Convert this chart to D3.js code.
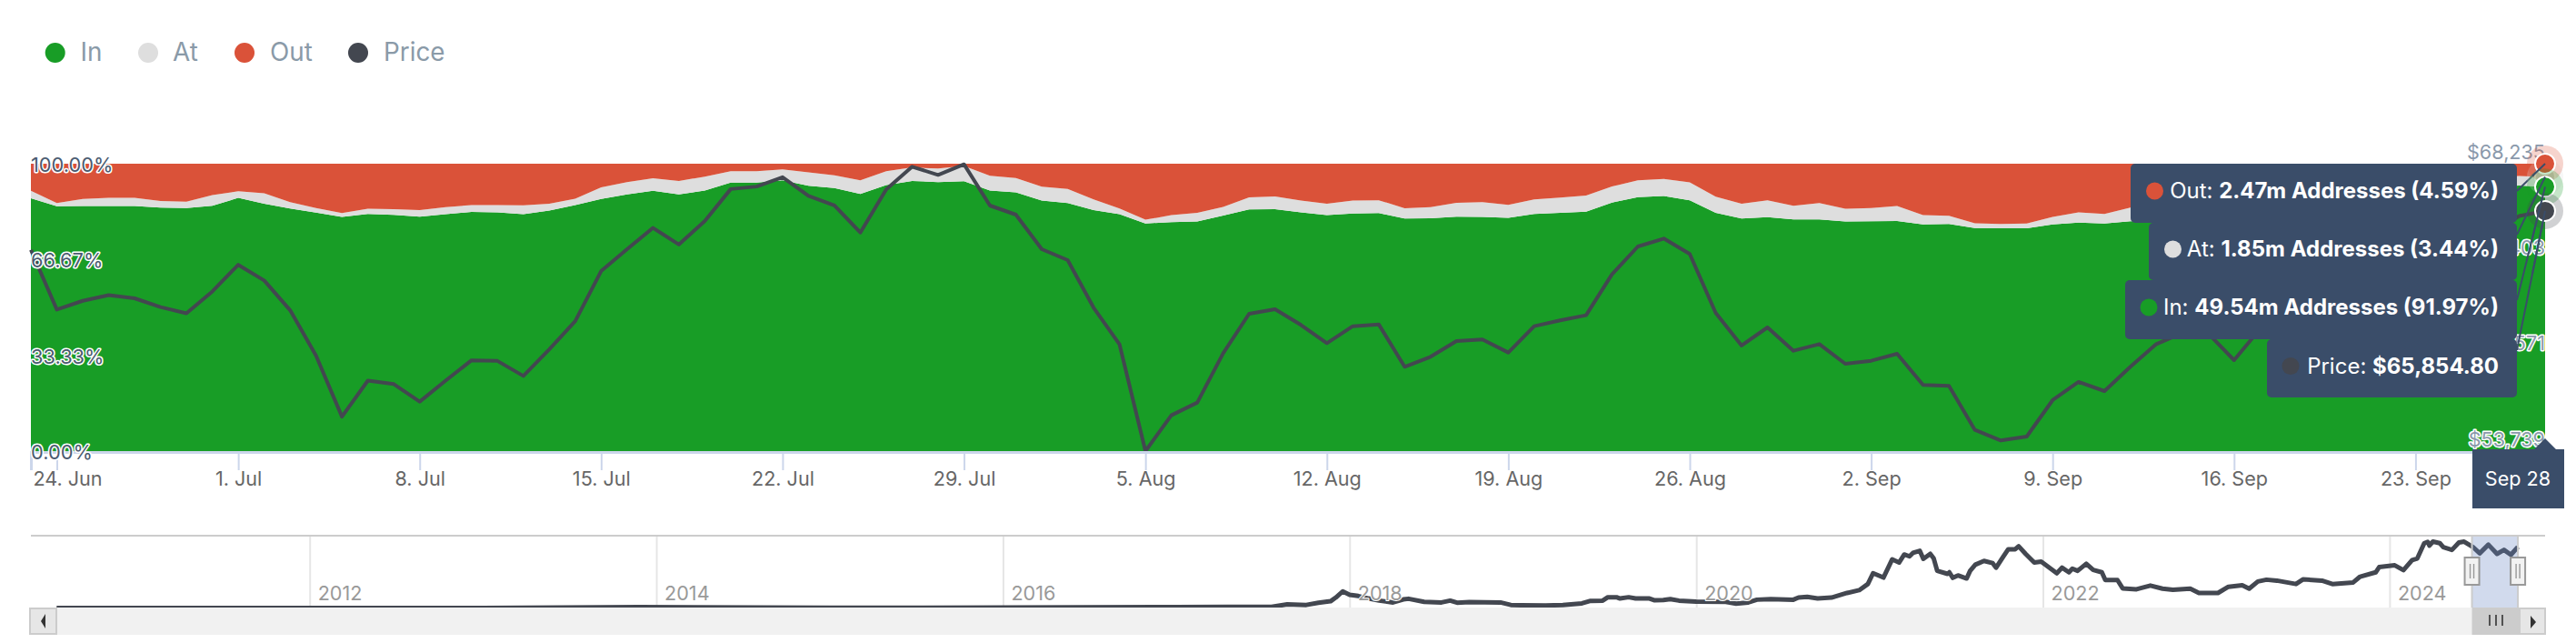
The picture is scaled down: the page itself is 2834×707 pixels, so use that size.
<!DOCTYPE html>
<html>
<head>
<meta charset="utf-8">
<style>
  html, body { margin: 0; padding: 0; background: #fff; }
  svg { display: block; font-family: Inter, sans-serif; }
  .outlined { paint-order: stroke; stroke: #fff; stroke-linejoin: round; }
</style>
<script src="https://cdn.jsdelivr.net/npm/d3@7"></script>
</head>
<body>
<svg id="chart" width="2834" height="707"></svg>
<script>
// first point of the daily series, the last one is Sep 28
let startDate = Date.UTC(2024, 5, 23);

let inPct = [
  88.0, 85.2, 85.3, 85.3, 85.3, 84.7, 84.6, 85.4, 88.1, 86.1, 84.4, 83.0, 81.5, 82.5,
  82.2, 81.6, 82.4, 83.2, 83.1, 82.4, 83.7, 85.6, 87.7, 89.3, 90.6, 89.3, 90.7, 93.4,
  93.4, 94.2, 92.3, 91.5, 89.5, 92.6, 94.0, 93.6, 93.9, 90.7, 90.0, 87.2, 86.3, 83.9,
  82.4, 79.2, 79.7, 79.9, 82.0, 84.1, 84.2, 83.1, 82.1, 82.7, 82.8, 80.9, 81.0, 81.6,
  81.5, 81.2, 82.5, 82.9, 83.3, 86.5, 88.4, 88.8, 87.3, 82.9, 80.9, 81.4, 80.6, 80.6,
  79.9, 80.0, 80.1, 78.9, 79.0, 77.6, 77.5, 77.5, 78.9, 79.5, 79.2, 80.0, 80.2, 81.0,
  82.0, 83.0, 84.0, 85.0, 86.0, 87.0, 87.5, 88.0, 88.5, 89.5, 90.0, 92.0, 92.4, 91.97
];
let atPct = [
  2.6, 1.1, 2.4, 2.8, 2.8, 2.3, 2.2, 3.7, 2.3, 3.6, 2.2, 1.6, 1.3, 1.8,
  2.0, 2.3, 2.5, 2.4, 2.5, 3.1, 2.4, 2.2, 4.1, 4.3, 4.3, 4.7, 4.8, 4.0,
  4.0, 3.8, 4.7, 4.5, 4.7, 4.8, 4.7, 4.7, 5.3, 5.1, 5.0, 4.8, 4.9, 3.7,
  2.0, 1.3, 2.4, 3.0, 3.0, 4.2, 4.4, 4.1, 4.0, 4.5, 4.5, 3.6, 3.9, 4.8,
  5.1, 4.5, 5.1, 5.3, 5.6, 5.6, 5.8, 5.9, 6.2, 5.6, 5.2, 5.9, 4.8, 5.7,
  4.4, 4.6, 5.2, 3.2, 2.9, 1.7, 1.5, 1.7, 2.6, 3.6, 3.3, 4.7, 5.2, 5.0,
  5.0, 5.0, 4.7, 4.5, 4.3, 4.0, 4.0, 4.0, 4.0, 3.5, 3.5, 3.3, 3.3, 3.44
];
let priceUsd = [
  63885, 60877, 61319, 61603, 61445, 61003, 60687, 61793, 63135, 62345, 60845, 58556, 55477, 57293,
  57119, 56235, 57293, 58319, 58287, 57529, 58872, 60293, 62819, 63924, 64998, 64161, 65345, 66956,
  67082, 67556, 66609, 66135, 64761, 66935, 68082, 67669, 68204, 66125, 65666, 63923, 63373, 60972,
  59122, 53739, 55544, 56186, 58679, 60666, 60896, 60101, 59183, 60040, 60131, 57991, 58495, 59290,
  59367, 58709, 60040, 60330, 60590, 62654, 64061, 64458, 63679, 60712, 59061, 59978, 58801, 59137,
  58144, 58296, 58648, 57073, 57027, 54810, 54275, 54474, 56309, 57226, 56767, 57991, 59137, 59700,
  59675, 58327, 59900, 61000, 62500, 63000, 63400, 63300, 63500, 63200, 64300, 64800, 65600, 65854.8
];

let pctTicks = [0, 33.33, 66.67, 100];
let priceTicks = [53739, 58571, 63403, 68235];
let weekTicks = [
  [5, 24], [6, 1], [6, 8], [6, 15], [6, 22], [6, 29], [7, 5], [7, 12], [7, 19], [7, 26],
  [8, 2], [8, 9], [8, 16], [8, 23]
].map(([m, d]) => Date.UTC(2024, m, d));

let legendItems = [
  { name: 'In', color: '#189d26', x: 60.7, textX: 88.5 },
  { name: 'At', color: '#dedede', x: 163, textX: 190 },
  { name: 'Out', color: '#da5239', x: 269, textX: 297 },
  { name: 'Price', color: '#434750', x: 394, textX: 422 }
];

// whole price history for the navigator, as decimal year and usd
let navYears = [
  2010.54, 2013.0, 2013.9, 2015.0, 2016.0, 2017.0, 2017.3, 2017.55, 2017.64, 2017.75, 2017.82, 2017.89, 2017.92, 2017.96,
  2018.0, 2018.05, 2018.11, 2018.17, 2018.25, 2018.31, 2018.34, 2018.43, 2018.53, 2018.58, 2018.62, 2018.69, 2018.87, 2018.93,
  2018.99, 2019.13, 2019.23, 2019.34, 2019.39, 2019.46, 2019.49, 2019.54, 2019.56, 2019.61, 2019.65, 2019.73, 2019.76, 2019.81,
  2019.85, 2019.9, 2020.0, 2020.17, 2020.23, 2020.3, 2020.35, 2020.43, 2020.56, 2020.59, 2020.64, 2020.7, 2020.78, 2020.87,
  2020.94, 2020.99, 2021.02, 2021.08, 2021.13, 2021.17, 2021.2, 2021.23, 2021.25, 2021.29, 2021.31, 2021.35, 2021.37, 2021.39,
  2021.45, 2021.46, 2021.48, 2021.51, 2021.56, 2021.58, 2021.61, 2021.66, 2021.71, 2021.73, 2021.77, 2021.8, 2021.84, 2021.86,
  2021.9, 2021.95, 2021.99, 2022.08, 2022.11, 2022.15, 2022.17, 2022.2, 2022.25, 2022.29, 2022.34, 2022.36, 2022.43, 2022.46,
  2022.54, 2022.62, 2022.69, 2022.75, 2022.85, 2022.9, 2023.01, 2023.07, 2023.15, 2023.19, 2023.24, 2023.29, 2023.35, 2023.46,
  2023.5, 2023.61, 2023.67, 2023.79, 2023.83, 2023.92, 2023.94, 2024.03, 2024.08, 2024.13, 2024.16, 2024.2, 2024.22, 2024.23,
  2024.25, 2024.29, 2024.31, 2024.36, 2024.4, 2024.43, 2024.48, 2024.52, 2024.57, 2024.62, 2024.66, 2024.7, 2024.74
];
let navPrices = [
  0, 100, 1000, 300, 400, 1000, 1200, 1300, 4000, 3300, 5700, 7300, 11300, 18000,
  14300, 13000, 10300, 8000, 6000, 9300, 10000, 6700, 6000, 8000, 5700, 6300, 6000, 3300,
  3000, 2700, 3300, 5000, 7700, 8000, 11700, 11700, 10300, 11700, 10300, 10300, 8300, 8700,
  9700, 8000, 7000, 6700, 4700, 6000, 9000, 9700, 9000, 11300, 12000, 10300, 11300, 16300,
  19300, 26000, 37700, 33000, 52700, 49300, 58000, 56000, 59700, 62000, 53300, 58700, 53700, 40300,
  37000, 38700, 32700, 35300, 32000, 40300, 47000, 51000, 48700, 43700, 55300, 63700, 63700, 67000,
  58700, 49300, 50300, 37700, 43700, 38700, 42700, 40300, 48000, 41300, 38700, 30300, 30300, 21300,
  20300, 24300, 21000, 19700, 21000, 16300, 16300, 23000, 24700, 21000, 28700, 30700, 29700, 26000,
  31000, 29700, 26000, 27700, 34000, 38700, 44300, 46300, 41000, 52000, 53700, 70300, 71700, 67700,
  72000, 70300, 66000, 63000, 71000, 72000, 66300, 59300, 68700, 58700, 63000, 57700, 66300
];
let navYearTicks = [2012, 2014, 2016, 2018, 2020, 2022, 2024];

let tooltipRows = [
  { label: 'Out: ', value: '2.47m Addresses (4.59%)', color: '#da5239', boxLeft: 2344, top: 180, bottom: 245, dotX: 2370.5, fromY: 210, pct: 100 },
  { label: 'At: ', value: '1.85m Addresses (3.44%)', color: '#dedede', boxLeft: 2364, top: 245, bottom: 308, dotX: 2390.5, fromY: 258, pct: 95.41 },
  { label: 'In: ', value: '49.54m Addresses (91.97%)', color: '#189d26', boxLeft: 2338, top: 308, bottom: 373, dotX: 2364, fromY: 330, pct: 91.97 },
  { label: 'Price: ', value: '$65,854.80', color: '#434750', boxLeft: 2494, top: 373, bottom: 437, dotX: 2520, fromY: 385, pct: null }
];

let svg = d3.select('#chart');
let tipColor = '#3a4d69';

let plotLeft = 34, plotRight = 2800, plotTop = 180, plotBottom = 496;
let x = d3.scaleUtc().domain([startDate, Date.UTC(2024, 8, 28)]).range([plotLeft, plotRight]);
let yPct = d3.scaleLinear().domain([0, 100]).range([plotBottom, plotTop]);
let yPrice = d3.scaleLinear().domain([53739, 68235]).range([plotBottom, plotTop]);
let dayMs = 86400000;
let dateAt = (i) => startDate + i * dayMs;

// stacked areas, out is what is left above in and at
let rows = inPct.map((v, i) => ({ date: dateAt(i), In: v, At: atPct[i], Out: 100 - v - atPct[i] }));
let stacked = d3.stack().keys(['In', 'At', 'Out'])(rows);
let areaColors = { In: '#189d26', At: '#dedede', Out: '#da5239' };
let areaGen = d3.area().x((d) => x(d.data.date)).y0((d) => yPct(d[0])).y1((d) => yPct(d[1]));

stacked.forEach((layer) => {
  svg.append('path').attr('d', areaGen(layer)).attr('fill', areaColors[layer.key]);
});

let priceLine = d3.line().x((d, i) => x(dateAt(i))).y((d) => yPrice(d));
svg.append('path')
  .attr('d', priceLine(priceUsd))
  .attr('fill', 'none')
  .attr('stroke', '#434750')
  .attr('stroke-width', 4)
  .attr('stroke-linejoin', 'round');

// x axis
let xAxis = svg.append('g')
  .attr('transform', `translate(0,${plotBottom + 1})`)
  .call(d3.axisBottom(x).tickValues(weekTicks).tickSize(20).tickPadding(2)
    .tickFormat(d3.utcFormat('%-d. %b')));
xAxis.select('.domain').attr('stroke', '#ccd6eb').attr('stroke-width', 3);
xAxis.selectAll('.tick line').attr('stroke', '#ccd6eb').attr('stroke-width', 2);
xAxis.selectAll('.tick text')
  .attr('fill', '#666')
  .attr('font-family', 'Inter, sans-serif')
  .attr('font-size', 21.6);
// first label is pushed right so it stays inside the chart
xAxis.select('.tick text').attr('dx', 11.5);

// left percent axis sits inside the plot
let pctAxis = svg.append('g')
  .attr('transform', `translate(${plotLeft},0)`)
  .call(d3.axisRight(yPct).tickValues(pctTicks).tickSize(0).tickPadding(0)
    .tickFormat((d) => d.toFixed(2) + '%'));
pctAxis.select('.domain').remove();
pctAxis.selectAll('text')
  .attr('class', 'outlined')
  .attr('dy', 8.5)
  .attr('fill', '#4a5a70')
  .attr('stroke-width', 3)
  .attr('font-family', 'Inter, sans-serif')
  .attr('font-size', 21.8);

// right price axis, labels sit above their tick
let priceAxis = svg.append('g')
  .attr('transform', `translate(${plotRight},0)`)
  .call(d3.axisLeft(yPrice).tickValues(priceTicks).tickSize(0).tickPadding(0)
    .tickFormat((d) => '$' + d3.format(',')(d)));
priceAxis.select('.domain').remove();
priceAxis.selectAll('text')
  .attr('class', 'outlined')
  .attr('dy', -6)
  .attr('fill', '#8a99ab')
  .attr('stroke-width', 3)
  .attr('font-family', 'Inter, sans-serif')
  .attr('font-size', 21.6);

// legend
legendItems.forEach((d) => {
  svg.append('circle').attr('cx', d.x).attr('cy', 58).attr('r', 11).attr('fill', d.color);
  svg.append('text')
    .attr('x', d.textX).attr('y', 66.5)
    .attr('fill', '#8a9aa8')
    .attr('font-size', 27.8)
    .text(d.name);
});

// navigator
let navTop = 590, navBottom = 668;
let navX = d3.scaleLinear().domain([2012, 2024]).range([340.7, 2628.9]);
let navY = d3.scaleLinear().domain([0, 73000]).range([668.5, 594.5]);

let navAxis = svg.append('g')
  .attr('transform', `translate(0,${navBottom})`)
  .call(d3.axisTop(navX).tickValues(navYearTicks).tickSize(navBottom - navTop).tickFormat(d3.format('d')));
navAxis.select('.domain').remove();
navAxis.selectAll('.tick line').attr('stroke', '#e6e6e6').attr('stroke-width', 2);
navAxis.selectAll('.tick text').remove();

let navLine = d3.line().x((d, i) => navX(navYears[i])).y((d) => navY(d));
svg.append('path')
  .attr('d', navLine(navPrices))
  .attr('fill', 'none')
  .attr('stroke', '#434750')
  .attr('stroke-width', 5)
  .attr('stroke-linejoin', 'round');

svg.selectAll('.nav-label')
  .data(navYearTicks)
  .join('text')
  .attr('class', 'nav-label outlined')
  .attr('x', (d) => navX(d) + 9)
  .attr('y', 660)
  .attr('fill', '#999')
  .attr('stroke-width', 2)
  .attr('font-size', 21.6)
  .text((d) => d);

svg.append('line')
  .attr('x1', plotLeft).attr('x2', plotRight).attr('y1', 589).attr('y2', 589)
  .attr('stroke', '#ccc').attr('stroke-width', 2);

// selected range
let selLeft = navX(2024 + (x.domain()[0] - Date.UTC(2024, 0, 1)) / (366 * dayMs));
let selRight = navX(2024 + (x.domain()[1] - Date.UTC(2024, 0, 1)) / (366 * dayMs));

svg.append('rect')
  .attr('x', selLeft).attr('y', navTop)
  .attr('width', selRight - selLeft).attr('height', navBottom - navTop)
  .attr('fill', 'rgba(102,133,194,0.3)');

// scrollbar
svg.append('rect').attr('x', 32).attr('y', navBottom).attr('width', 2768).attr('height', 30).attr('fill', '#f1f1f1');
[[33, 29], [2772, 28]].forEach(([bx, bw]) => {
  svg.append('rect')
    .attr('x', bx).attr('y', navBottom + 1).attr('width', bw).attr('height', 28)
    .attr('fill', '#e6e6e6').attr('stroke', '#ccc').attr('stroke-width', 2);
});
svg.append('path').attr('d', 'M50,675 L45,683 L50,691 Z').attr('fill', '#333');
svg.append('path').attr('d', 'M2784,677 L2790,684 L2784,691 Z').attr('fill', '#333');
svg.append('rect')
  .attr('x', selLeft).attr('y', navBottom)
  .attr('width', 2772 - selLeft).attr('height', 30)
  .attr('fill', '#ccc');
[2739, 2746, 2753].forEach((lx) => {
  svg.append('line').attr('x1', lx).attr('x2', lx).attr('y1', 676).attr('y2', 688).attr('stroke', '#333').attr('stroke-width', 1.6);
});

// range edges and handles
[selLeft, selRight].forEach((hx) => {
  svg.append('line')
    .attr('x1', hx).attr('x2', hx).attr('y1', navTop).attr('y2', navBottom)
    .attr('stroke', '#ccc').attr('stroke-width', 2);
  svg.append('rect')
    .attr('x', hx - 8).attr('y', 613).attr('width', 16).attr('height', 30)
    .attr('fill', '#f2f2f2').attr('stroke', '#999').attr('stroke-width', 2);
  [-2, 2].forEach((off) => {
    svg.append('line')
      .attr('x1', hx + off).attr('x2', hx + off).attr('y1', 620).attr('y2', 636)
      .attr('stroke', '#999').attr('stroke-width', 1.4);
  });
});

// callouts from the tooltip boxes to the last point
let lastY = (row) => (row.pct === null ? yPrice(priceUsd[priceUsd.length - 1]) : yPct(row.pct));
tooltipRows.forEach((row) => {
  svg.append('line')
    .attr('x1', 2769).attr('y1', row.fromY)
    .attr('x2', plotRight).attr('y2', lastY(row))
    .attr('stroke', tipColor).attr('stroke-width', 2);
});

// hover markers
[tooltipRows[1], tooltipRows[0], tooltipRows[2], tooltipRows[3]].forEach((row) => {
  svg.append('circle')
    .attr('cx', plotRight).attr('cy', lastY(row)).attr('r', 20)
    .attr('fill', row.color).attr('opacity', 0.25);
  svg.append('circle')
    .attr('cx', plotRight).attr('cy', lastY(row)).attr('r', 11)
    .attr('fill', row.color).attr('stroke', '#fff').attr('stroke-width', 2);
});
// callout tips run over the markers
tooltipRows.forEach((row) => {
  svg.append('line')
    .attr('x1', plotRight - 14).attr('y1', lastY(row) + (row.fromY - lastY(row)) * 14 / 31)
    .attr('x2', plotRight).attr('y2', lastY(row))
    .attr('stroke', tipColor).attr('stroke-width', 2);
});

// tooltip boxes
tooltipRows.forEach((row) => {
  svg.append('rect')
    .attr('x', row.boxLeft).attr('y', row.top)
    .attr('width', 2769 - row.boxLeft).attr('height', row.bottom - row.top)
    .attr('rx', 5)
    .attr('fill', tipColor);
  svg.append('circle')
    .attr('cx', row.dotX).attr('cy', (row.top + row.bottom) / 2 - 2.5)
    .attr('r', 9.5).attr('fill', row.color);
  let label = svg.append('text')
    .attr('x', 2749).attr('y', (row.top + row.bottom) / 2 + 5.5)
    .attr('text-anchor', 'end')
    .attr('fill', '#fff')
    .attr('font-size', 24);
  label.append('tspan').text(row.label);
  label.append('tspan').attr('font-weight', 700).text(row.value);
});

// date flag under the last point
svg.append('path')
  .attr('d', `M${plotRight},482 L${plotRight + 12},494 L2821,494 L2821,559 L2720,559 L2720,494 L${plotRight - 12},494 Z`)
  .attr('fill', tipColor);
svg.append('text')
  .attr('x', 2770).attr('y', 534)
  .attr('text-anchor', 'middle')
  .attr('fill', '#fff')
  .attr('font-size', 21.6)
  .text('Sep 28');
</script>
</body>
</html>
